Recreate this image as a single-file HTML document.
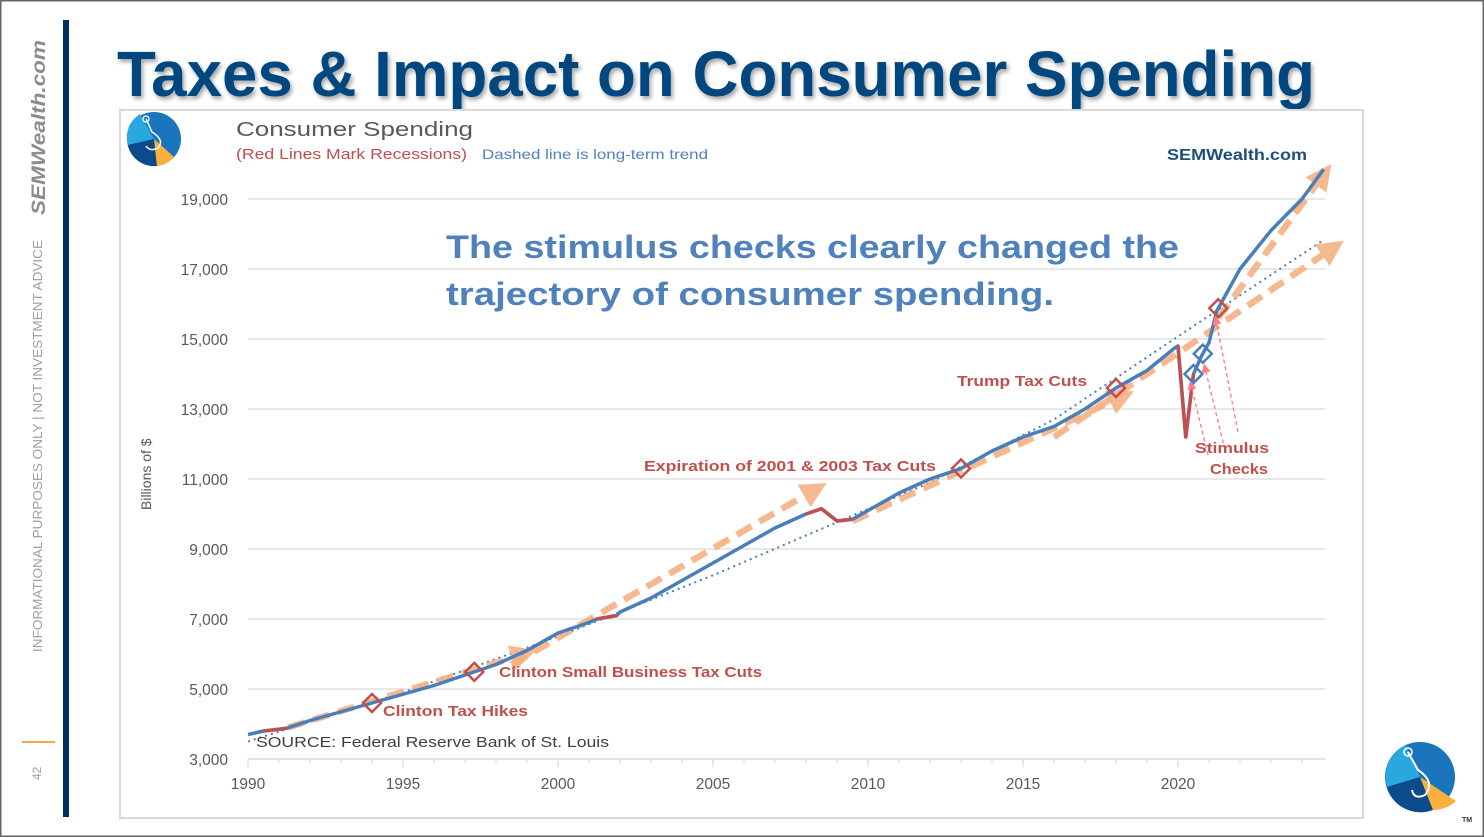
<!DOCTYPE html>
<html><head><meta charset="utf-8"><style>
html,body{margin:0;padding:0;background:#fff;}
svg{display:block;font-family:"Liberation Sans",sans-serif;}
</style></head><body>
<svg id="chart" width="1484" height="837" viewBox="0 0 1484 837" xmlns="http://www.w3.org/2000/svg">
<defs>
<filter id="sh" x="-5%" y="-5%" width="110%" height="130%"><feDropShadow dx="2" dy="3" stdDeviation="2" flood-color="#000" flood-opacity="0.35"/></filter>
<marker id="arrO" viewBox="0 0 10 10" refX="5" refY="5" markerWidth="4" markerHeight="4" orient="auto"><path d="M0,0L10,5L0,10z" fill="#f4b183"/></marker>
<marker id="arrR" viewBox="0 0 10 10" refX="5" refY="5" markerWidth="7" markerHeight="7" orient="auto"><path d="M0,0L10,5L0,10z" fill="#ff7c80"/></marker>
</defs>
<rect x="0.5" y="0.5" width="1483" height="836" fill="#fff" stroke="#666" stroke-width="2"/>
<rect x="63" y="20" width="6" height="797" fill="#003060"/>
<text transform="translate(45,215) rotate(-90)" font-size="19" font-weight="bold" font-style="italic" fill="#8c8c8c" textLength="175" lengthAdjust="spacingAndGlyphs">SEMWealth.com</text>
<text transform="translate(42,652) rotate(-90)" font-size="12.5" fill="#a0a0a0" textLength="412" lengthAdjust="spacingAndGlyphs">INFORMATIONAL PURPOSES ONLY | NOT INVESTMENT ADVICE</text>
<line x1="22" y1="742" x2="55" y2="742" stroke="#f9a93a" stroke-width="2"/>
<text transform="translate(41,780) rotate(-90)" font-size="12" fill="#a0a0a0">42</text>
<text x="117" y="96" font-size="64" font-weight="bold" fill="#00467f" textLength="1198" lengthAdjust="spacingAndGlyphs" filter="url(#sh)">Taxes &amp; Impact on Consumer Spending</text>
<rect x="120" y="110" width="1243" height="708" fill="#fff" stroke="#d9d9d9" stroke-width="2"/>
<g>
<circle cx="154" cy="139" r="27" fill="#1b75bc"/>
<path d="M154,139 L128,145 A27,27 0 0 1 140,114 Z" fill="#29a8e0"/>
<path d="M154,139 L128,145 A27,27 0 0 0 157,166 Z" fill="#0b4a8b"/>
<path d="M154,139 L157,166 A27,27 0 0 0 174,157 Z" fill="#f9b03c"/>
<path d="M146,119 L152,132 Q165,140 158,148 Q150,152 146,146" fill="none" stroke="#fff" stroke-width="1.5"/>
<circle cx="146" cy="119" r="3" fill="none" stroke="#fff" stroke-width="1.3"/>
</g>
<text x="236" y="136" font-size="20" fill="#595959" textLength="237" lengthAdjust="spacingAndGlyphs">Consumer Spending</text>
<text x="236" y="159" font-size="15" fill="#c0504d" textLength="231" lengthAdjust="spacingAndGlyphs">(Red Lines Mark Recessions)</text>
<text x="482" y="159" font-size="14" fill="#4f81bd" textLength="226" lengthAdjust="spacingAndGlyphs">Dashed line is long-term trend</text>
<text x="1167" y="160" font-size="16" font-weight="bold" fill="#1f4e79" textLength="140" lengthAdjust="spacingAndGlyphs">SEMWealth.com</text>
<text x="446" y="258" font-size="32" font-weight="bold" fill="#4f81bd" textLength="733" lengthAdjust="spacingAndGlyphs">The stimulus checks clearly changed the</text>
<text x="446" y="305" font-size="32" font-weight="bold" fill="#4f81bd" textLength="608" lengthAdjust="spacingAndGlyphs">trajectory of consumer spending.</text>
<text transform="translate(151,510) rotate(-90)" font-size="14" fill="#595959">Billions of $</text>
<g id="grid"></g><g id="axes"></g><g id="series"></g><g id="annot"></g>
<text x="256" y="747" font-size="15" fill="#404040" textLength="353" lengthAdjust="spacingAndGlyphs">SOURCE:  Federal Reserve Bank of St. Louis</text>
<g font-weight="bold" fill="#c0504d" font-size="15">
<text x="383" y="716" textLength="145" lengthAdjust="spacingAndGlyphs">Clinton Tax Hikes</text>
<text x="499" y="677" textLength="263" lengthAdjust="spacingAndGlyphs">Clinton Small Business Tax Cuts</text>
<text x="644" y="471" textLength="292" lengthAdjust="spacingAndGlyphs">Expiration of 2001 &amp; 2003 Tax Cuts</text>
<text x="957" y="386" textLength="130" lengthAdjust="spacingAndGlyphs">Trump Tax Cuts</text>
<text x="1195" y="453" textLength="74" lengthAdjust="spacingAndGlyphs">Stimulus</text>
<text x="1210" y="474" textLength="58" lengthAdjust="spacingAndGlyphs">Checks</text>
</g>
<g>
<circle cx="1420" cy="777" r="35" fill="#1b75bc"/>
<path d="M1420,777 L1387,787 A35,35 0 0 1 1406,745 Z" fill="#29a8e0"/>
<path d="M1420,777 L1387,787 A35,35 0 0 0 1433,810 Z" fill="#0b4a8b"/>
<path d="M1420,777 L1433,810 A35,35 0 0 0 1456,801 Z" fill="#f9b03c"/>
<path d="M1408,752 L1418,770 Q1436,782 1425,795 Q1414,800 1412,790" fill="none" stroke="#fff" stroke-width="2"/>
<circle cx="1408" cy="752" r="4" fill="none" stroke="#fff" stroke-width="1.6"/>
<text x="1462" y="822" font-size="7" font-weight="bold" fill="#333">TM</text>
</g>
</svg>
<script>
const NS="http://www.w3.org/2000/svg";
const yTicks=[3000,5000,7000,9000,11000,13000,15000,17000,19000];
const xTicks=[1990,1995,2000,2005,2010,2015,2020];
const years=[1990,1990.5,1991,1991.25,1992,1993,1994,1995,1996,1997,1998,1999,2000,2001,2001.25,2001.9,2002,2003,2004,2005,2006,2007,2008,2008.5,2009,2009.5,2010,2011,2012,2013,2014,2015,2016,2017,2018,2019,2019.9,2020.0,2020.25,2020.5,2020.75,2021,2021.25,2021.5,2022,2023,2024,2024.7];
const spending=[3700,3800,3850,3880,4100,4350,4600,4850,5100,5400,5700,6100,6600,6900,7000,7100,7200,7600,8100,8600,9100,9600,10000,10150,9800,9850,10100,10600,11000,11300,11800,12200,12500,13000,13600,14100,14750,14800,12200,14000,14500,14900,15800,16200,17000,18100,19000,19850];
const recessions=[[1990.5,1991.25],[2001.25,2001.9],[2008,2009.5],[2020.0,2020.5]];
const trendYears=[1990,1995,2000,2005,2008.3,2012,2016,2020.3,2024.7];
const trendValues=[3500,4900,6500,8250,9500,10900,12700,15250,17830];
const taxEventYears=[1994,1997.3,2013,2018,2021.3];
const stimulusYears=[2020.5,2020.8];
const arrowStartYears=[1991.3,1998.5,2009.5,2016,2021.3];
const arrowEndYears=[1998.9,2008.3,2018.2,2025,2024.7];
const arrowStartValues=[3900,5700,9800,12200,15600];
const arrowEndValues=[6000,10700,13350,17600,19700];
function X(y){return 248+(y-1990)*31;}
function Y(v){return 759-(v-3000)*0.035;}
function valAt(y){for(let i=0;i<years.length-1;i++){if(y>=years[i]&&y<=years[i+1]){const t=(y-years[i])/(years[i+1]-years[i]);return spending[i]+t*(spending[i+1]-spending[i]);}}return spending[spending.length-1];}
function mk(tag,attrs,parent){const e=document.createElementNS(NS,tag);for(const k in attrs)e.setAttribute(k,attrs[k]);parent.appendChild(e);return e;}
const grid=document.getElementById('grid'),axes=document.getElementById('axes'),series=document.getElementById('series'),annot=document.getElementById('annot');
yTicks.forEach(v=>{
 if(v>3000){const l=mk('line',{x1:248,x2:1325,y1:Y(v),y2:Y(v),stroke:'#d9d9d9','stroke-width':1.3},grid);
 
 }
 const t=mk('text',{x:228,y:Y(v)+6,'text-anchor':'end','font-size':15.5,fill:'#595959'},axes);
 t.textContent=v.toLocaleString('en-US');
 
 
});
const ax=mk('line',{x1:248,x2:1325,y1:759,y2:759,stroke:'#d9d9d9','stroke-width':1.5},axes);


for(let y=1990;y<=2024;y++){const tk=mk('line',{x1:X(y),x2:X(y),y1:759,y2:y%5===0?767:763,stroke:'#d9d9d9','stroke-width':1.2},axes);
 
 }
xTicks.forEach(y=>{const t=mk('text',{x:X(y),y:789,'text-anchor':'middle','font-size':15.5,fill:'#595959'},axes);
 t.textContent=y;
 
 });
const tp=trendYears.map((y,i)=>X(y)+','+Y(trendValues[i])).join(' ');
const tr=mk('polyline',{points:tp,fill:'none',stroke:'#4a7ebb','stroke-width':2,'stroke-dasharray':'2 4'},series);


arrowStartYears.forEach((s,i)=>{const a=mk('line',{x1:X(s),y1:Y(arrowStartValues[i]),x2:X(arrowEndYears[i]),y2:Y(arrowEndValues[i]),stroke:'#f4b183','stroke-width':6.5,'stroke-dasharray':'17 9','marker-end':'url(#arrO)',opacity:0.9},series);
 
 });
const pts=years.map((y,i)=>X(y)+','+Y(spending[i])).join(' ');
const ml=mk('polyline',{points:pts,fill:'none',stroke:'#4a7ebb','stroke-width':3.5,'stroke-linejoin':'round'},series);


recessions.forEach(r=>{const p=[[r[0],valAt(r[0])]];years.forEach((y,i)=>{if(y>r[0]&&y<r[1])p.push([y,spending[i]]);});p.push([r[1],valAt(r[1])]);
 const rl=mk('polyline',{points:p.map(q=>X(q[0])+','+Y(q[1])).join(' '),fill:'none',stroke:'#c0504d','stroke-width':3.5,'stroke-linejoin':'round'},series);
 
 });
function diamond(y,color,name){const cx=X(y),cy=Y(valAt(y));const d=mk('path',{d:`M${cx},${cy-9}L${cx+9},${cy}L${cx},${cy+9}L${cx-9},${cy}Z`,fill:'none',stroke:color,'stroke-width':2.5},annot);
 
 }
taxEventYears.forEach(y=>diamond(y,'#c0504d','tax-event-marker'));
stimulusYears.forEach(y=>diamond(y,'#4a7ebb','stimulus-marker'));
const ptrs=[[1208,455,1191,385],[1225,450,1205,368],[1238,432,1216,320]];
ptrs.forEach(p=>{const a=mk('line',{x1:p[0],y1:p[1],x2:p[2],y2:p[3],stroke:'#ff7c80','stroke-width':1.3,'stroke-dasharray':'4 3','marker-end':'url(#arrR)'},annot);
 
 });
</script>
</body></html>
